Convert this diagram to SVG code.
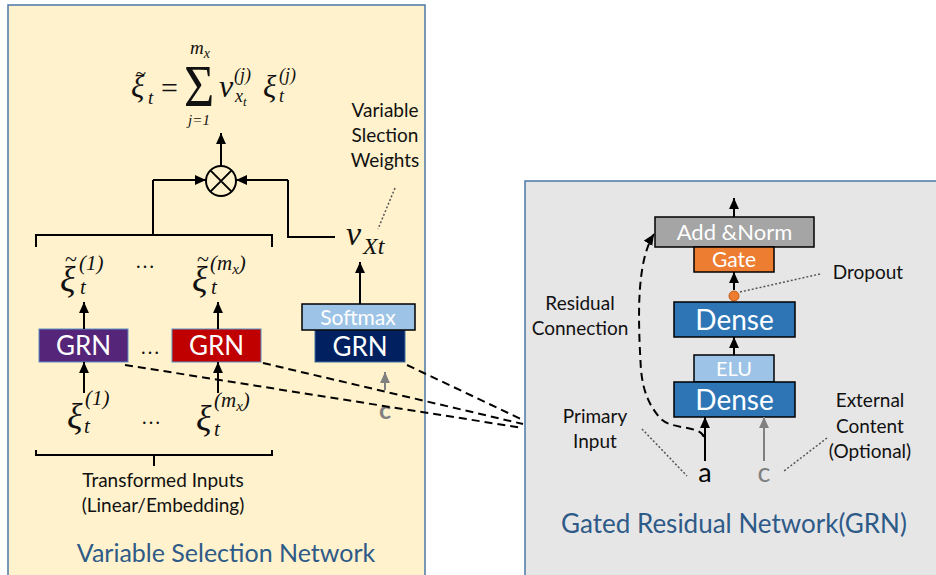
<svg xmlns="http://www.w3.org/2000/svg" width="936" height="575" viewBox="0 0 936 575">
<defs>
<marker id="ah" viewBox="0 0 10 10" refX="10" refY="5" markerWidth="11" markerHeight="11" markerUnits="userSpaceOnUse" orient="auto"><path d="M0,0.5 L10,5 L0,9.5 z" fill="#000"/></marker>
<marker id="ahg" viewBox="0 0 10 10" refX="10" refY="5" markerWidth="11" markerHeight="11" markerUnits="userSpaceOnUse" orient="auto"><path d="M0,0.5 L10,5 L0,9.5 z" fill="#808080"/></marker>
<style>
.panel{stroke:#4a78a8;stroke-width:1.5}
.ln{stroke:#000;stroke-width:2;fill:none}
.arr{stroke:#000;stroke-width:2;fill:none;marker-end:url(#ah)}
.garr{stroke:#808080;stroke-width:2;fill:none;marker-end:url(#ahg)}
.dash{stroke:#000;stroke-width:2;fill:none;stroke-dasharray:8 5}
.dot{stroke:#555;stroke-width:1.5;fill:none;stroke-dasharray:2 2}
.lbl{font-family:Lato,"Liberation Sans",sans-serif;font-size:19px;fill:#111;text-anchor:middle}
.btxt{font-family:Lato,"Liberation Sans",sans-serif;fill:#fff;text-anchor:middle}
.title{font-family:Lato,"Liberation Sans",sans-serif;fill:#2e5a88;text-anchor:middle}
.m{font-family:"Liberation Serif","DejaVu Serif",serif;font-style:italic;fill:#111}
.mr{font-family:"Liberation Serif","DejaVu Serif",serif;fill:#111}
</style>
</defs>

<g id="vsn-panel">
<rect class="panel" x="8" y="5" width="417" height="585" fill="#fff2cc"/>
<text class="title" x="226" y="562" font-size="25">Variable Selection Network</text>
</g>
<g id="grn-panel">
<rect class="panel" x="525" y="181" width="420" height="410" fill="#e7e6e6"/>
<text class="title" x="734" y="533" font-size="26">Gated Residual Network(GRN)</text>
</g>

<g id="formula">
<text class="m" x="131" y="97" font-size="31">ξ</text>
<text class="mr" x="141" y="80" font-size="19" text-anchor="middle">~</text>
<text class="m" x="148" y="104" font-size="19">t</text>
<text class="mr" x="161" y="98" font-size="30">=</text>
<text class="mr" transform="translate(199,106) scale(1,1.15)" font-size="52" text-anchor="middle">Σ</text>
<text class="m" x="190" y="54" font-size="19">m<tspan font-size="14" dy="4">x</tspan></text>
<text class="m" x="199" y="125" font-size="15" text-anchor="middle">j=1</text>
<text class="m" x="219" y="97" font-size="32">v</text>
<text class="m" x="234" y="81" font-size="18">(j)</text>
<text class="m" x="235" y="102" font-size="18">x<tspan font-size="13" dy="4">t</tspan></text>
<text class="m" x="263" y="97" font-size="31">ξ</text>
<text class="m" x="279" y="81" font-size="18">(j)</text>
<text class="m" x="279" y="102" font-size="18">t</text>
</g>

<g id="multiply">
<circle cx="221" cy="181" r="15" fill="none" stroke="#000" stroke-width="2"/>
<path class="ln" d="M210.4,170.4 L231.6,191.6 M231.6,170.4 L210.4,191.6"/>
</g>

<g id="vsw-label">
<text class="lbl" x="385" y="117">Variable</text>
<text class="lbl" x="385" y="142">Slection</text>
<text class="lbl" x="385" y="167">Weights</text>
</g>

<g id="v-xt">
<text class="m" x="346" y="245" font-size="34">v</text>
<text class="m" x="363" y="254" font-size="24">Xt</text>
</g>

<g id="xi-tilde-1">
<text class="m" x="60" y="291" font-size="36">ξ</text>
<text class="mr" x="71" y="266" font-size="22" text-anchor="middle">~</text>
<text class="m" x="79" y="270" font-size="21">(1)</text>
<text class="m" x="80" y="294" font-size="21">t</text>
</g>
<text class="mr" x="145" y="268" font-size="20" text-anchor="middle">…</text>
<g id="xi-tilde-m">
<text class="m" x="192" y="291" font-size="36">ξ</text>
<text class="mr" x="203" y="266" font-size="22" text-anchor="middle">~</text>
<text class="m" x="210" y="270" font-size="21">(m<tspan font-size="15" dy="4">x</tspan><tspan dy="-4">)</tspan></text>
<text class="m" x="211" y="294" font-size="21">t</text>
</g>

<g id="grn-1">
<rect x="39" y="329" width="89" height="33" fill="#552579" stroke="#5b8fc4" stroke-width="1"/>
<text class="btxt" x="83.5" y="355" font-size="26">GRN</text>
</g>
<text class="mr" x="150" y="354" font-size="20" text-anchor="middle">…</text>
<g id="grn-m">
<rect x="172" y="329" width="89" height="33" fill="#c00000" stroke="#5b8fc4" stroke-width="1"/>
<text class="btxt" x="216.5" y="355" font-size="26">GRN</text>
</g>

<g id="softmax-grn">
<rect x="315" y="330" width="90" height="32" fill="#002060" stroke="#41719c" stroke-width="1"/>
<text class="btxt" x="360" y="356" font-size="26">GRN</text>
<rect x="302" y="304" width="113" height="26" fill="#9dc3e6" stroke="#000" stroke-width="1.5"/>
<text class="btxt" x="358" y="325" font-size="21">Softmax</text>
</g>

<g id="c-left">
<text x="385" y="419" font-family="Lato,'Liberation Sans',sans-serif" font-size="25" font-weight="bold" fill="#808080" text-anchor="middle">c</text>
</g>

<g id="xi-1">
<text class="m" x="67" y="428" font-size="36">ξ</text>
<text class="m" x="85" y="405" font-size="21">(1)</text>
<text class="m" x="84" y="433" font-size="21">t</text>
</g>
<text class="mr" x="151" y="424" font-size="20" text-anchor="middle">…</text>
<g id="xi-m">
<text class="m" x="196" y="430" font-size="36">ξ</text>
<text class="m" x="214" y="407" font-size="21">(m<tspan font-size="15" dy="4">x</tspan><tspan dy="-4">)</tspan></text>
<text class="m" x="214" y="436" font-size="21">t</text>
</g>

<g id="transformed-label">
<text class="lbl" x="163" y="487">Transformed Inputs</text>
<text class="lbl" x="163" y="512">(Linear/Embedding)</text>
</g>

<g id="add-norm">
<rect x="655" y="217" width="159" height="30" fill="#a5a5a5" stroke="#000" stroke-width="1.5"/>
<text class="btxt" x="734.5" y="240" font-size="22">Add &amp;Norm</text>
</g>
<g id="gate">
<rect x="694" y="247" width="80" height="25" fill="#ed7d31" stroke="#000" stroke-width="1.5"/>
<text class="btxt" x="734" y="267" font-size="21">Gate</text>
</g>
<g id="dropout">
<circle cx="734" cy="296" r="5" fill="#ed7d31" stroke="#c55a11" stroke-width="1"/>
<text class="lbl" x="868" y="279">Dropout</text>
</g>
<g id="dense-1">
<rect x="674" y="302" width="121" height="35" fill="#2e75b6" stroke="#000" stroke-width="1.5"/>
<text class="btxt" x="734.5" y="330" font-size="28">Dense</text>
</g>
<g id="elu">
<rect x="694" y="355" width="80" height="27" fill="#9dc3e6" stroke="#000" stroke-width="1.5"/>
<text class="btxt" x="734" y="376" font-size="20">ELU</text>
</g>
<g id="dense-2">
<rect x="674" y="382" width="121" height="35" fill="#2e75b6" stroke="#000" stroke-width="1.5"/>
<text class="btxt" x="734.5" y="410" font-size="28">Dense</text>
</g>
<g id="input-a">
<text x="705" y="482" font-family="Lato,'Liberation Sans',sans-serif" font-size="27" fill="#000" text-anchor="middle">a</text>
</g>
<g id="input-c">
<text x="764" y="482" font-family="Lato,'Liberation Sans',sans-serif" font-size="27" fill="#808080" text-anchor="middle">c</text>
</g>
<g id="residual-label">
<text class="lbl" x="580" y="310">Residual</text>
<text class="lbl" x="580" y="335">Connection</text>
</g>
<g id="primary-label">
<text class="lbl" x="595" y="423">Primary</text>
<text class="lbl" x="595" y="448">Input</text>
</g>
<g id="external-label">
<text class="lbl" x="870" y="407">External</text>
<text class="lbl" x="870" y="433">Content</text>
<text class="lbl" x="870" y="458">(Optional)</text>
</g>

<g id="connectors">
<path class="arr" d="M221,166 L221,133"/>
<path class="ln" d="M153,235 L153,180"/>
<path class="arr" d="M153,180 L206,180"/>
<path class="ln" d="M335,237 L288,237 L288,180"/>
<path class="arr" d="M288,180 L236,180"/>
<path class="ln" d="M36,247 L36,235 L272,235 L272,247"/>
<path class="arr" d="M84,329 L84,302"/>
<path class="arr" d="M218,329 L218,302"/>
<path class="arr" d="M84,393 L84,362"/>
<path class="arr" d="M218,393 L218,362"/>
<path class="ln" d="M36,450 L36,455 L272,455 L272,450 M154,455 L154,466"/>
<path class="arr" d="M360,304 L360,262"/>
<path class="garr" d="M385,390 L385,372"/>
<path class="dot" d="M395,188 L378,229"/>
<path class="dash" d="M125,365 L523,428"/>
<path class="dash" d="M263,363 L523,424"/>
<path class="dash" d="M407,365 L523,420"/>
<path class="arr" d="M734,217 L734,198"/>
<path class="arr" d="M734,290 L734,272"/>
<path class="dot" d="M740,292 L820,274"/>
<path class="arr" d="M734,355 L734,337"/>
<path class="arr" d="M705,461 L705,417"/>
<path class="garr" d="M764,461 L764,417"/>
<path class="dash" d="M704,437 C700,425 670,430 660,418 C648,404 643,390 641,370 C638,320 636,262 654,234" marker-end="url(#ah)"/>
<path class="dot" d="M642,429 L687,476"/>
<path class="dot" d="M827,438 L784,471"/>
</g>
</svg>
